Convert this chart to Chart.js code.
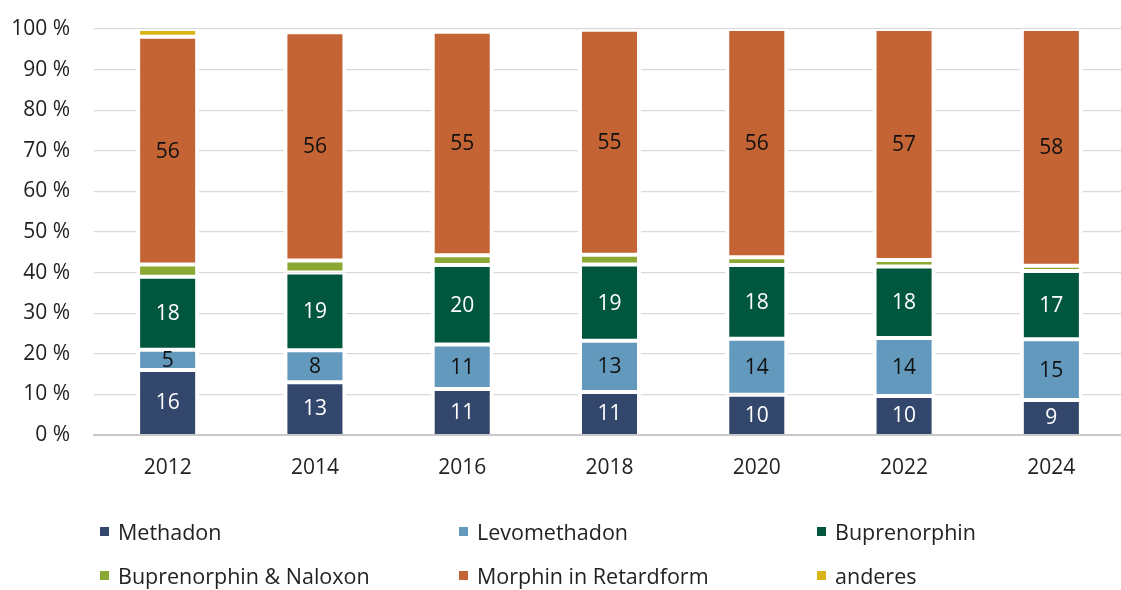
<!DOCTYPE html>
<html>
<head>
<meta charset="utf-8">
<script src="https://cdn.jsdelivr.net/npm/chart.js@4/dist/chart.umd.min.js"></script>
<style>
  html, body { margin: 0; padding: 0; background: #fff; overflow: hidden; }
  #wrap { position: absolute; left: 0; top: 0; width: 1125px; height: 590px; }
  #legend { position: absolute; left: 0; top: 0; width: 1121px; height: 590px; pointer-events: none;
            font-family: 'Open Sans', sans-serif; font-size: 21.5px; color: #222; }
  .lg-item { position: absolute; display: flex; align-items: center; white-space: nowrap; }
  .lg-box { width: 9px; height: 9px; margin-right: 9px; }
</style>
</head>
<body>
<div id="wrap"><canvas id="chart" width="1125" height="590"></canvas></div>
<div id="legend"></div>
<script>
// ─── DATA ─────────────────────────────────────────────────
const years = ['2012', '2014', '2016', '2018', '2020', '2022', '2024'];
const methadon    = [16.0, 13.0, 11.3, 10.6,  9.9,  9.6,  8.6];
const levomethad  = [ 5.0,  7.9, 11.0, 12.6, 13.8, 14.3, 15.0];
const bupren      = [18.0, 19.1, 19.6, 18.8, 18.2, 17.6, 16.8];
const buprNalox   = [ 3.0,  3.0,  2.4,  2.4,  1.9,  1.6,  1.3];
const morphin     = [56.1, 56.2, 55.0, 55.4, 56.2, 56.9, 58.3];
const anderes     = [ 1.9,  0,    0,    0,    0,    0,    0  ];
const yTicks = [0, 10, 20, 30, 40, 50, 60, 70, 80, 90, 100];

const FONT = "'Open Sans', sans-serif";
const side = { top: 2, bottom: 2, left: 4, right: 4 };

function ds(label, data, color, labelColor) {
    return {
        label, data,
        backgroundColor: color,
        borderColor: '#ffffff',
        borderWidth: label === 'Methadon' ? { top: 2, bottom: 0, left: 4, right: 4 } : side,
        borderSkipped: false,
        valueColor: labelColor,
    };
}

const datasets = [
    ds('Methadon', methadon, '#33466C', '#ffffff'),
    ds('Levomethadon', levomethad, '#6399BD', '#111111'),
    ds('Buprenorphin', bupren, '#00573E', '#ffffff'),
    ds('Buprenorphin & Naloxon', buprNalox, '#8BA833', null),
    ds('Morphin in Retardform', morphin, '#C46434', '#111111'),
    ds('anderes', anderes, '#D9B416', null),
];

// values inside the segments
const valueLabels = {
    id: 'valueLabels',
    afterDatasetsDraw(chart) {
        const ctx = chart.ctx;
        ctx.save();
        ctx.font = `21px ${FONT}`;
        ctx.textAlign = 'center';
        ctx.textBaseline = 'middle';
        chart.data.datasets.forEach((d, i) => {
            if (!d.valueColor) return;
            const meta = chart.getDatasetMeta(i);
            meta.data.forEach((bar, j) => {
                const p = bar.getProps(['x', 'y', 'base'], true);
                ctx.fillStyle = d.valueColor;
                ctx.fillText(Math.round(d.data[j]), p.x, (p.y + p.base) / 2 + 1);
            });
        });
        ctx.restore();
    }
};

const chart = new Chart(document.getElementById('chart'), {
    type: 'bar',
    data: { labels: years, datasets },
    plugins: [valueLabels],
    options: {
        responsive: false,
        animation: false,
        devicePixelRatio: 1,
        layout: { padding: { top: 29, left: 0, right: 0, bottom: 0 } },
        datasets: { bar: { categoryPercentage: 1, barPercentage: 0.428 } },
        plugins: { legend: { display: false }, tooltip: { enabled: false } },
        scales: {
            x: {
                stacked: true,
                grid: { display: false, drawTicks: false },
                border: { display: true, color: '#C8C8C8', width: 2, z: 1 },
                ticks: { color: '#222', font: { family: FONT, size: 21 }, padding: 20 },
                afterFit(s) { s.height = 155; s.paddingTop = 0; s.paddingBottom = 0; },
            },
            y: {
                stacked: true,
                min: 0, max: 100,
                afterBuildTicks(s) { s.ticks = yTicks.map(v => ({ value: v })); },
                grid: { color: '#D9D9D9', lineWidth: 1.3, drawTicks: false },
                border: { display: false },
                ticks: { color: '#222', font: { family: FONT, size: 21 }, padding: 24,
                         callback: v => v + ' %' },
                afterFit(s) { s.width = 94; s.paddingTop = 0; s.paddingBottom = 0; },
            }
        }
    }
});

// legend in three columns, built from the datasets
const legendCols = [100, 459, 817];
const legendRows = [531, 575];
const lg = document.getElementById('legend');
chart.data.datasets.forEach((d, i) => {
    const item = document.createElement('div');
    item.className = 'lg-item';
    item.style.left = legendCols[i % 3] + 'px';
    item.style.top = (legendRows[Math.floor(i / 3)] - 15) + 'px';
    item.style.height = '30px';
    item.innerHTML = `<span class="lg-box" style="background:${d.backgroundColor}"></span><span>${d.label}</span>`;
    lg.appendChild(item);
});
</script>
</body>
</html>
